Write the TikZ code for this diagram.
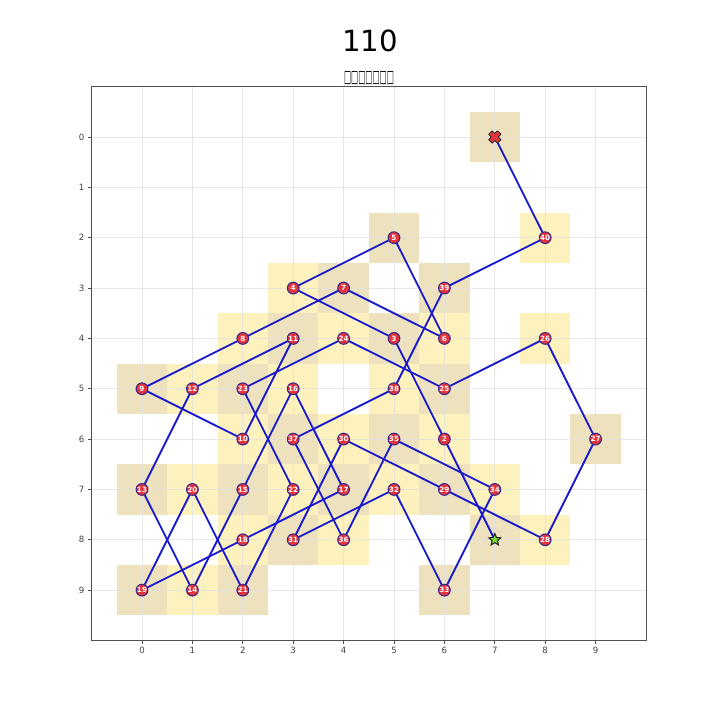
\documentclass[tikz,border=0pt]{standalone}
\usepackage{fontspec}
\usepackage{graphicx}
\setmainfont{DejaVu Sans}
\usetikzlibrary{shapes.geometric}
\definecolor{cellyellow}{RGB}{253,242,189}
\definecolor{celltan}{RGB}{238,226,190}
\definecolor{gridgray}{RGB}{225,225,225}
\definecolor{framegray}{RGB}{80,80,80}
\definecolor{pathblue}{RGB}{25,25,205}
\definecolor{nodered}{RGB}{226,52,58}
\definecolor{nodeedge}{RGB}{60,40,140}
\definecolor{stargreen}{RGB}{120,220,50}
\tikzset{
  pathline/.style={draw=pathblue, line width=1.05pt, line cap=round},
  visit/.style={circle, fill=nodered, draw=nodeedge, line width=0.6pt, minimum size=0.235cm, inner sep=0pt,
    text=white, font=\fontsize{4.1}{4.5}\selectfont\bfseries},
  ticklab/.style={font=\fontsize{4.9}{5}\selectfont, text=black!75, inner sep=0pt},
  startmark/.style={star, star points=5, star point ratio=2.2, fill=stargreen, draw=black!85, line width=0.6pt, minimum size=0.25cm, inner sep=0pt},
}
\begin{document}
\begin{tikzpicture}
\useasboundingbox (0,0) rectangle (14.4,-14.4);
\node (title) at (7.4,-0.82) {\fontsize{16.6}{18}\selectfont 110};
\node (subtitle) at (7.38,-1.57) {\resizebox{1.0cm}{0.22cm}{□□□□□□□}};
\begin{scope}[x=1.008cm, y=-1.007cm, shift={(2.84cm,-2.74cm)}]
  % cell shading
  \foreach \i/\c/\r in {1/7/8, 2/6/6, 3/5/4, 4/3/3, 5/5/2, 6/6/4, 7/4/3, 8/2/4, 9/0/5, 10/2/6, 11/3/4, 12/1/5, 13/0/7, 14/1/9, 15/2/7, 16/3/5, 17/4/7, 18/2/8, 19/0/9, 20/1/7, 21/2/9, 22/3/7, 23/2/5, 24/4/4, 25/6/5, 26/8/4, 27/9/6, 28/8/8, 29/6/7, 30/4/6, 31/3/8, 32/5/7, 33/6/9, 34/7/7, 35/5/6, 36/4/8, 37/3/6, 38/5/5, 39/6/3, 40/8/2, 41/7/0}{
    \pgfmathtruncatemacro\pp{mod(\c+\r,2)}
    \ifnum\pp=1
      \fill[celltan] (\c-0.5,\r-0.5) rectangle (\c+0.5,\r+0.5);
    \else
      \fill[cellyellow] (\c-0.5,\r-0.5) rectangle (\c+0.5,\r+0.5);
    \fi
    \coordinate (p\i) at (\c,\r);
  }
  % grid
  \foreach \k in {0,...,9}{
    \draw[gridgray, line width=0.4pt, opacity=0.8] (\k,-1) -- (\k,10);
    \draw[gridgray, line width=0.4pt, opacity=0.8] (-1,\k) -- (10,\k);
  }
  % frame and ticks
  \draw[framegray, line width=0.5pt] (-1,-1) rectangle (10,10);
  \foreach \k in {0,...,9}{
    \draw[framegray, line width=0.4pt] (\k,10) -- ++(0,0.07);
    \draw[framegray, line width=0.4pt] (-1,\k) -- ++(-0.07,0);
    \node[ticklab, anchor=north] (xt\k) at ([yshift=-0.13cm]\k,10) {\k};
    \node[ticklab, anchor=east] (yt\k) at ([xshift=-0.14cm]-1,\k) {\k};
  }
  % path
  \foreach \i [evaluate=\i as \j using int(\i+1)] in {1,...,40}{
    \draw[pathline] (p\i) -- (p\j);
  }
  % nodes
  \foreach \i in {2,...,40}{
    \node[visit] (n\i) at (p\i) {\i};
  }
  \node[startmark] (n1) at (p1) {};
  \begin{scope}[shift={(p41)}, rotate=45, x=1cm, y=1cm]
    \filldraw[fill=nodered, draw=black!80, line width=0.5pt, line join=round]
      (0.05,0.125) -- (0.05,0.05) -- (0.125,0.05) -- (0.125,-0.05) -- (0.05,-0.05) -- (0.05,-0.125)
      -- (-0.05,-0.125) -- (-0.05,-0.05) -- (-0.125,-0.05) -- (-0.125,0.05) -- (-0.05,0.05) -- (-0.05,0.125) -- cycle;
  \end{scope}
  \coordinate (n41) at (p41);
\end{scope}
\end{tikzpicture}
\end{document}
